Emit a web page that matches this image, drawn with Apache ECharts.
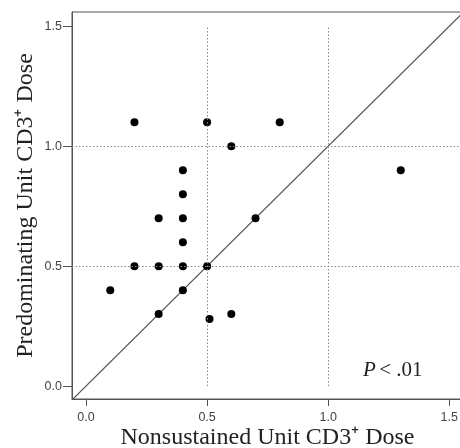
<!DOCTYPE html>
<html>
<head>
<meta charset="utf-8">
<script src="https://cdn.jsdelivr.net/npm/echarts@6/dist/echarts.min.js"></script>
<style>
  html, body { margin: 0; padding: 0; background: #fff; }
  #chart { width: 460px; height: 448px; }
</style>
</head>
<body>
<div id="chart"></div>
<script>
// data
var nonsustained = [0.2, 0.5, 0.8, 0.6, 1.3, 0.4, 0.4, 0.3, 0.4, 0.7, 0.4, 0.2, 0.3, 0.4, 0.5, 0.1, 0.4, 0.3, 0.6, 0.51];
var predominating = [1.1, 1.1, 1.1, 1.0, 0.9, 0.9, 0.8, 0.7, 0.7, 0.7, 0.6, 0.5, 0.5, 0.5, 0.5, 0.4, 0.4, 0.3, 0.3, 0.28];
var tickValues = [0, 0.5, 1, 1.5];
var refX = [0.5, 1.0];
var refY = [0.5, 1.0];
var identity = [-0.1, 1.6];

var xMin = -0.058, xMax = 1.557;
var yMin = -0.054, yMax = 1.56;

var points = [];
for (var i = 0; i < nonsustained.length; i++) {
  points.push([nonsustained[i], predominating[i]]);
}

// dotted reference lines
var marks = [];
refX.forEach(function (v) {
  marks.push([{ coord: [v, 0] }, { coord: [v, 1.5] }]);
});
refY.forEach(function (v) {
  marks.push([{ coord: [xMin, v] }, { coord: [xMax, v] }]);
});

var chart = echarts.init(document.getElementById('chart'));
chart.setOption({
  animation: false,
  grid: {
    left: 72, top: 12, right: -3, bottom: 49,
    outerBoundsMode: 'none', containLabel: false,
    show: true, borderColor: '#555', borderWidth: 1, backgroundColor: 'transparent'
  },
  xAxis: {
    type: 'value', min: xMin, max: xMax,
    name: 'Nonsustained Unit CD3\u207A Dose',
    nameLocation: 'middle', nameGap: 27, nameMoveOverlap: false,
    nameTextStyle: { fontFamily: 'Liberation Serif', fontSize: 24, color: '#222' },
    axisLine: { show: true, onZero: false, lineStyle: { color: '#555' } },
    axisTick: { show: true, length: 7, customValues: tickValues, lineStyle: { color: '#555' } },
    axisLabel: {
      customValues: tickValues, color: '#444', fontFamily: 'Liberation Sans', fontSize: 12.5, margin: 12,
      formatter: function (v) { return v.toFixed(1); }
    },
    splitLine: { show: false }
  },
  yAxis: {
    type: 'value', min: yMin, max: yMax,
    name: 'Predominating Unit CD3\u207A Dose',
    nameLocation: 'middle', nameGap: 34, nameMoveOverlap: false,
    nameTextStyle: { fontFamily: 'Liberation Serif', fontSize: 24, color: '#222' },
    axisLine: { show: true, onZero: false, lineStyle: { color: '#555' } },
    axisTick: { show: true, length: 9, customValues: tickValues, lineStyle: { color: '#555' } },
    axisLabel: {
      customValues: tickValues, color: '#444', fontFamily: 'Liberation Sans', fontSize: 12.5, margin: 10,
      formatter: function (v) { return v.toFixed(1); }
    },
    splitLine: { show: false }
  },
  series: [
    {
      type: 'line',
      data: [[identity[0], identity[0]], [identity[1], identity[1]]],
      symbol: 'none',
      clip: true,
      lineStyle: { color: '#555', width: 1.2 },
      z: 1
    },
    {
      type: 'scatter',
      data: points,
      symbolSize: 8,
      itemStyle: { color: '#000', opacity: 1 },
      z: 3,
      markLine: {
        silent: true,
        symbol: 'none',
        label: { show: false },
        lineStyle: { type: [1.5, 2], color: '#888', width: 1 },
        data: marks
      }
    }
  ],
  graphic: [
    {
      type: 'text',
      left: 363, top: 360,
      style: {
        rich: {
          i: { fontFamily: 'Liberation Serif', fontStyle: 'italic', fontSize: 21, fill: '#222' },
          n: { fontFamily: 'Liberation Serif', fontSize: 21, fill: '#222' }
        },
        text: '{i|P} {n|< .01}'
      }
    }
  ]
});
</script>
</body>
</html>
